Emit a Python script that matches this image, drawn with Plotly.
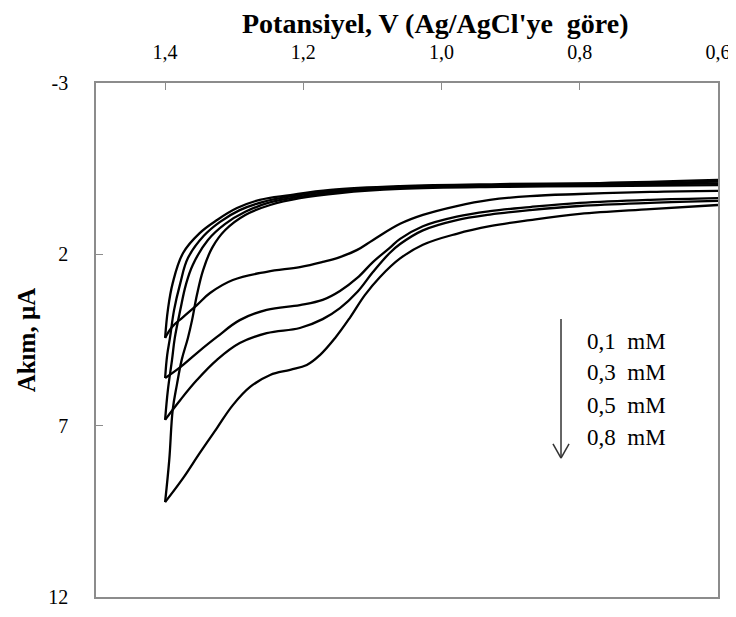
import plotly.graph_objects as go

# Concentrations (legend text)
conc_labels = ["0,1 mM", "0,3 mM", "0,5 mM", "0,8 mM"]

# Forward (anodic) scans 0.6 -> 1.4 V : potential (V) and current (µA)
fwd_v_01 = [0.600, 0.698, 0.800, 0.872, 0.930, 0.978, 1.027, 1.060, 1.099, 1.122, 1.147, 1.172, 1.205, 1.253, 1.302, 1.335, 1.354, 1.374, 1.390, 1.400]
fwd_i_01 = [0.15, 0.18, 0.24, 0.30, 0.41, 0.59, 0.85, 1.11, 1.58, 1.87, 2.08, 2.22, 2.37, 2.51, 2.75, 3.13, 3.48, 3.83, 4.12, 4.44]

fwd_v_03 = [0.600, 0.698, 0.800, 0.872, 0.930, 0.978, 1.027, 1.060, 1.075, 1.099, 1.122, 1.147, 1.172, 1.205, 1.253, 1.292, 1.325, 1.354, 1.378, 1.400]
fwd_i_03 = [0.36, 0.41, 0.50, 0.62, 0.74, 0.90, 1.18, 1.55, 1.81, 2.22, 2.69, 3.07, 3.33, 3.48, 3.62, 3.92, 4.41, 4.88, 5.29, 5.61]

fwd_v_05 = [0.600, 0.698, 0.800, 0.872, 0.930, 0.978, 1.027, 1.060, 1.075, 1.099, 1.122, 1.147, 1.172, 1.205, 1.253, 1.292, 1.325, 1.354, 1.378, 1.400]
fwd_i_05 = [0.44, 0.50, 0.59, 0.71, 0.84, 1.00, 1.30, 1.70, 1.96, 2.51, 3.10, 3.57, 3.89, 4.15, 4.30, 4.59, 5.08, 5.67, 6.25, 6.83]

fwd_v_08 = [0.600, 0.698, 0.800, 0.872, 0.930, 0.978, 1.027, 1.060, 1.089, 1.111, 1.132, 1.154, 1.176, 1.195, 1.219, 1.248, 1.277, 1.302, 1.325, 1.350, 1.374, 1.400]
fwd_i_08 = [0.56, 0.68, 0.82, 1.00, 1.18, 1.40, 1.72, 2.12, 2.66, 3.19, 3.83, 4.44, 4.94, 5.23, 5.37, 5.52, 5.87, 6.40, 7.07, 7.80, 8.53, 9.23]

# Reverse scans 1.4 -> 0.6 V
rev_v_01 = [1.400, 1.396, 1.389, 1.374, 1.350, 1.325, 1.296, 1.263, 1.219, 1.161, 1.060, 0.915, 0.771, 0.600]
rev_i_01 = [4.44, 3.62, 2.84, 1.96, 1.38, 1.00, 0.65, 0.41, 0.27, 0.12, 0.01, -0.05, -0.08, -0.17]

rev_v_03 = [1.400, 1.397, 1.393, 1.387, 1.378, 1.367, 1.344, 1.321, 1.292, 1.258, 1.215, 1.157, 1.060, 0.915, 0.771, 0.600]
rev_i_03 = [5.61, 4.94, 4.44, 3.62, 2.84, 2.11, 1.46, 1.06, 0.71, 0.47, 0.30, 0.15, 0.03, -0.02, -0.05, -0.12]

rev_v_05 = [1.400, 1.396, 1.390, 1.386, 1.378, 1.370, 1.360, 1.338, 1.313, 1.284, 1.251, 1.208, 1.150, 1.060, 0.915, 0.771, 0.600]
rev_i_05 = [6.83, 5.96, 5.08, 4.44, 3.62, 2.89, 2.31, 1.58, 1.11, 0.76, 0.50, 0.33, 0.18, 0.06, 0.01, -0.02, -0.07]

rev_v_08 = [1.400, 1.394, 1.389, 1.383, 1.376, 1.367, 1.361, 1.354, 1.345, 1.332, 1.313, 1.284, 1.248, 1.205, 1.147, 1.060, 0.915, 0.771, 0.600]
rev_i_08 = [9.23, 8.00, 6.54, 5.81, 5.08, 4.44, 3.92, 3.19, 2.46, 1.81, 1.29, 0.85, 0.56, 0.36, 0.21, 0.09, 0.03, 0.01, -0.02]

# Axis ticks
x_tickvals = [1.4, 1.2, 1.0, 0.8, 0.6]
x_ticktext = ["1,4", "1,2", "1,0", "0,8", "0,6"]
y_tickvals = [-3, 2, 7, 12]
y_ticktext = ["-3", "2", "7", "12"]

SERIF = "Liberation Serif"

branches = [
    (fwd_v_01, fwd_i_01), (rev_v_01, rev_i_01),
    (fwd_v_03, fwd_i_03), (rev_v_03, rev_i_03),
    (fwd_v_05, fwd_i_05), (rev_v_05, rev_i_05),
    (fwd_v_08, fwd_i_08), (rev_v_08, rev_i_08),
]

fig = go.Figure()
for v, i in branches:
    fig.add_trace(go.Scatter(
        x=v, y=i, mode="lines",
        line=dict(color="black", width=2.3, shape="spline", smoothing=1.1),
        showlegend=False, hoverinfo="skip",
    ))

axis_common = dict(
    showgrid=False, zeroline=False, automargin=False,
    showline=True, linecolor="#8c8c8c", linewidth=1.5, mirror=True,
    ticks="inside", ticklen=7, tickwidth=1, tickcolor="#8c8c8c",
    tickfont=dict(family=SERIF, size=20, color="black"),
)

# page body adds an 8px offset, so the figure is sized to fit the window
fig.update_layout(
    width=728, height=609,
    margin=dict(l=88, r=18, t=75, b=20),
    paper_bgcolor="white", plot_bgcolor="white",
    xaxis=dict(range=[1.5, 0.6], side="top", tickmode="array",
               tickvals=x_tickvals, ticktext=x_ticktext,
               ticklabelstandoff=14, **axis_common),
    yaxis=dict(range=[12, -3], tickmode="array",
               tickvals=y_tickvals, ticktext=y_ticktext,
               ticklabelstandoff=22, **axis_common),
)

# Axis titles
fig.add_annotation(xref="paper", yref="paper", x=0.5466, y=1.1167,
                   text="<b>Potansiyel, V (Ag/AgCl'ye  göre)</b>", showarrow=False,
                   font=dict(family=SERIF, size=28, color="black"),
                   xanchor="center", yanchor="middle")
fig.add_annotation(xref="paper", yref="paper", x=-0.112, y=0.5,
                   text="<b>Akım, µA</b>", showarrow=False, textangle=-90,
                   font=dict(family=SERIF, size=25, color="black"),
                   xanchor="center", yanchor="middle")

# Concentration labels
label_y = [0.498, 0.436, 0.3735, 0.311]
for txt, yy in zip(conc_labels, label_y):
    fig.add_annotation(xref="paper", yref="paper", x=0.786, y=yy,
                       text=txt.replace(" ", "  "), showarrow=False,
                       font=dict(family=SERIF, size=23, color="black"),
                       xanchor="left", yanchor="middle")

# Arrow (increasing concentration)
ax_x = 0.7476
fig.add_shape(type="line", xref="paper", yref="paper",
              x0=ax_x, y0=0.541, x1=ax_x, y1=0.2704,
              line=dict(color="#333333", width=1.5))
fig.add_shape(type="line", xref="paper", yref="paper",
              x0=ax_x - 0.0129, y0=0.2977, x1=ax_x, y1=0.2704,
              line=dict(color="#333333", width=1.5))
fig.add_shape(type="line", xref="paper", yref="paper",
              x0=ax_x + 0.0129, y0=0.2977, x1=ax_x, y1=0.2704,
              line=dict(color="#333333", width=1.5))

fig.write_html("out.html")
